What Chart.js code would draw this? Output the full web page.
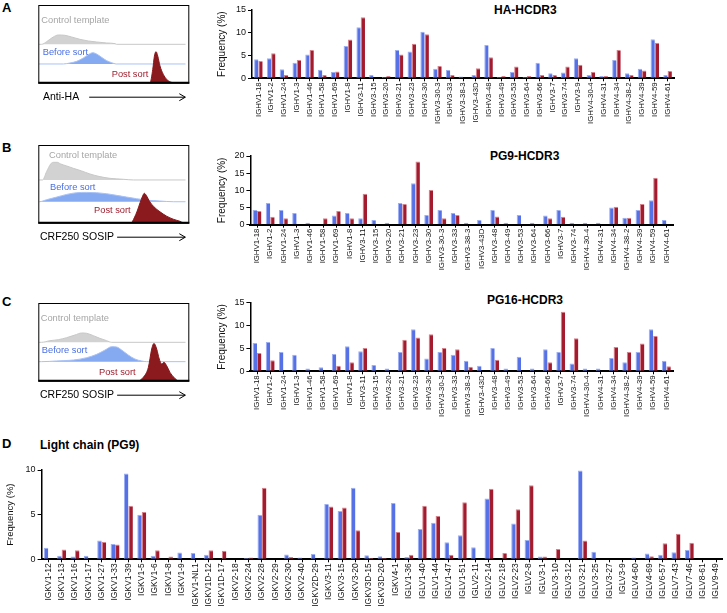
<!DOCTYPE html>
<html>
<head>
<meta charset="utf-8">
<script src="https://cdn.jsdelivr.net/npm/chart.js@4.4.0/dist/chart.umd.min.js"></script>
<style>
body { margin:0; background:#fff; width:727px; height:613px; position:relative; overflow:hidden; font-family:"Liberation Sans", Arial, sans-serif; }
canvas { position:absolute; }
.lbl { position:absolute; font-weight:bold; color:#000; white-space:nowrap; line-height:1; }
</style>
</head>
<body>
<div class="lbl" style="left:2px;top:0.6px;font-size:13px">A</div>
<div class="lbl" style="left:2px;top:140.6px;font-size:13px">B</div>
<div class="lbl" style="left:2px;top:294.6px;font-size:13px">C</div>
<div class="lbl" style="left:2px;top:436.6px;font-size:13px">D</div>
<div class="lbl" style="left:494px;top:4px;font-size:12px">HA-HCDR3</div>
<div class="lbl" style="left:490px;top:150px;font-size:12px">PG9-HCDR3</div>
<div class="lbl" style="left:487px;top:294px;font-size:12px">PG16-HCDR3</div>
<div class="lbl" style="left:40px;top:438.6px;font-size:12px">Light chain (PG9)</div>

<canvas id="histA" width="170" height="110" style="left:30px;top:0px"></canvas>
<canvas id="histB" width="170" height="110" style="left:30px;top:140px"></canvas>
<canvas id="histC" width="170" height="110" style="left:30px;top:298px"></canvas>
<canvas id="barA" width="517" height="135" style="left:210px;top:0px"></canvas>
<canvas id="barB" width="517" height="140" style="left:210px;top:140px"></canvas>
<canvas id="barC" width="517" height="145" style="left:210px;top:285px"></canvas>
<canvas id="barD" width="727" height="158" style="left:0px;top:455px"></canvas>

<script>
// heavy chain genes
var genesHA = ['IGHV1-18','IGHV1-2','IGHV1-24','IGHV1-3','IGHV1-46','IGHV1-58','IGHV1-69','IGHV1-8',
  'IGHV3-11','IGHV3-15','IGHV3-20','IGHV3-21','IGHV3-23','IGHV3-30','IGHV3-30-3','IGHV3-33','IGHV3-38-3',
  'IGHV3-43D','IGHV3-48','IGHV3-49','IGHV3-53','IGHV3-64','IGHV3-66','IGHV3-7','IGHV3-74','IGHV3-9',
  'IGHV4-30-4','IGHV4-31','IGHV4-34','IGHV4-38-2','IGHV4-39','IGHV4-59','IGHV4-61'];
var genesPG = ['IGHV1-18','IGHV1-2','IGHV1-24','IGHV1-3','IGHV1-46','IGHV1-58','IGHV1-69','IGHV1-8',
  'IGHV3-11','IGHV3-15','IGHV3-20','IGHV3-21','IGHV3-23','IGHV3-30','IGHV3-30-3','IGHV3-33','IGHV3-38-3',
  'IGHV3-43D','IGHV3-48','IGHV3-49','IGHV3-53','IGHV3-64','IGHV3-66','IGHV3-7','IGHV3-74',
  'IGHV4-30-4','IGHV4-31','IGHV4-34','IGHV4-38-2','IGHV4-39','IGHV4-59','IGHV4-61'];

var haBefore = [4.2,4.4,2.0,3.4,5.2,1.9,1.4,7.1,11.2,0.7,0.3,6.2,5.9,10.2,2.1,1.8,0.4,0.7,7.3,0.3,1.4,0.3,3.4,1.1,1.3,4.4,0.7,0.5,4.0,1.1,2.1,8.6,0.7];
var haPost = [3.8,5.5,0.7,4.0,6.2,0.7,1.5,8.5,13.4,0.2,0.5,5.2,7.6,9.7,2.7,0.7,null,2.2,4.6,0.5,2.6,0.5,0.7,0.7,2.6,3.0,1.4,0.5,6.2,0.7,1.7,7.8,1.6];

var pg9Before = [4.3,6.3,4.3,3.4,0.6,null,2.7,3.4,1.9,1.4,0.6,6.3,12.1,2.8,4.3,3.4,0.6,1.4,4.3,0.6,2.8,0.6,2.7,4.3,0.6,0.6,0.6,5.0,2.0,4.3,7.1,1.4];
var pg9Post = [4.0,2.3,1.9,null,null,1.9,4.0,1.9,9.0,null,null,6.0,18.4,10.1,1.9,2.8,null,null,2.4,null,null,null,1.9,2.3,null,null,null,5.2,2.0,6.0,13.7,null];

var pg16Before = [6.2,6.4,4.2,3.6,0.6,0.9,3.8,5.5,4.4,1.4,0.6,4.2,9.2,2.8,4.2,3.6,2.3,1.2,5.1,0.6,3.2,0.6,4.8,4.2,1.7,0.6,0.6,2.9,2.0,4.2,9.2,2.3];
var pg16Post = [4.0,2.4,null,null,null,null,1.2,2.0,5.1,null,null,6.9,7.4,8.1,5.1,4.8,1.0,null,2.5,null,null,null,2.0,13.0,7.2,null,null,5.3,4.2,6.1,7.7,1.1];

// light chain genes
var genesLight = ['IGKV1-12','IGKV1-13','IGKV1-16','IGKV1-17','IGKV1-27','IGKV1-33','IGKV1-39','IGKV1-5','IGKV1-6',
  'IGKV1-8','IGKV1-9','IGKV1-NL1','IGKV1D-12','IGKV1D-17','IGKV2-18','IGKV2-24','IGKV2-28','IGKV2-29','IGKV2-30',
  'IGKV2-40','IGKV2D-29','IGKV3-11','IGKV3-15','IGKV3-20','IGKV3D-15','IGKV3D-20','IGKV4-1','IGLV1-36','IGLV1-40',
  'IGLV1-44','IGLV1-47','IGLV1-51','IGLV2-11','IGLV2-14','IGLV2-18','IGLV2-23','IGLV2-8','IGLV3-1','IGLV3-10',
  'IGLV3-12','IGLV3-21','IGLV3-25','IGLV3-27','IGLV3-9','IGLV4-60','IGLV4-69','IGLV6-57','IGLV7-43','IGLV7-46',
  'IGLV8-61','IGLV9-49'];
var lightBefore = [1.3,0.4,0.3,0.4,2.1,1.7,9.6,5.0,0.4,null,0.75,0.7,0.5,null,null,0.15,5.0,null,0.55,0.2,0.6,6.2,5.4,8.0,0.45,0.35,6.3,0.25,3.4,4.1,1.9,2.7,1.35,6.8,null,4.0,2.15,0.3,null,null,9.95,0.85,null,null,0.2,0.65,0.5,0.8,1.05,null,null];
var lightPost = [null,1.1,1.0,null,1.95,1.65,6.0,5.3,1.0,0.3,null,null,1.0,0.95,null,0.2,8.0,null,0.25,null,null,5.9,5.8,3.25,0.15,0.15,3.05,0.5,6.0,4.85,0.5,6.4,null,7.9,0.7,5.6,8.3,0.3,1.15,null,2.1,null,null,null,null,0.35,1.8,2.85,1.85,null,null];

var maxHA = 15, maxPG9 = 20, maxPG16 = 15, maxLight = 10;

// sort histograms (x = fluorescence, y = count, box height = 100)
var histHaControlX = [2.2,5.5,9.9,13.2,17.6,22.1,27.6,33.1,38.6,45.3,50.8,51.9];
var histHaControlY = [0,3.4,9.4,12,11.6,9.4,6.4,4.3,3,1.7,0.9,0];
var histHaBeforeX = [16.6,21,25.4,29.8,33.1,36,38.6,41.9,45.3,48.6,51.5];
var histHaBeforeY = [0,1.3,3.4,7.7,12,14.6,12.9,8.6,4.3,1.7,0];
var histHaPostX = [74,75.8,76.9,78,79.1,80.6,82.8,85,87.6,89.4];
var histHaPostY = [0,17.2,34.3,39.9,34.3,21.5,10.7,4.3,0.9,0];

var histPg9ControlX = [2.8,5.5,8.2,9.9,12.6,14.8,18.8,23.2,28.7,34.2,40.8,47.5,56.3,62.9];
var histPg9ControlY = [0,10.7,20.6,22.7,22.7,20.6,18,15,11.6,7.7,4.3,2.1,0.9,0];
var histPg9BeforeX = [0.7,5.5,12.2,18.8,25.4,32,38.6,45.3,51.9,58.5,65.1,71.8,80.6,89.4];
var histPg9BeforeY = [0,2.6,6,9.4,11.6,12,11.6,10.3,8.2,6,3.9,2.1,0.9,0];
var histPg9PostX = [61.5,63.5,65.5,67.4,69.1,70.2,71.5,73.5,76.5,80.6,85,89.4,93.8,96];
var histPg9PostY = [0,6,15,25.7,34.3,37.8,35.2,27.9,20.6,14,8.4,4.5,1.8,0];

var histPg16ControlX = [2.2,7.7,13.2,18.8,24.3,28.7,32,36.4,40.8,45.3,48.6];
var histPg16ControlY = [0,2.1,3.4,6,9.4,12,11.6,8.6,5.1,2.1,0];
var histPg16BeforeX = [2.2,12.2,23.2,32,38.6,44.2,48.6,51.9,55.2,59.6,64,68.4,71.8];
var histPg16BeforeY = [0,0.9,2.1,5.1,9.4,15,19.3,18.9,15,8.6,3.4,0.9,0];
var histPg16PostX = [66.2,69.5,72.9,75.1,76.6,78.4,80.1,81.7,83.2,85,87.2,89.8,92.7];
var histPg16PostY = [0,4.3,17.2,40.8,48,40.8,27.9,21.5,23.6,19.3,10.7,4.3,0];

var FONT = '"Liberation Sans", Arial, sans-serif';
Chart.defaults.font.family = FONT;
Chart.defaults.color = '#111';
Chart.defaults.animation = false;

var BLUE = '#5571E5', BLUE_EDGE = '#9DB0F4';
var RED = '#A31B2E', RED_EDGE = '#D9828C';

function curve(xs, ys, base) {
    var pts = [{x: 0.5, y: base}];
    for (var i = 0; i < xs.length; i++) pts.push({x: xs[i], y: base + ys[i]});
    pts.push({x: 97.5, y: base});
    return pts;
}

function histFrame(labels, axisText, indent, gap) {
    return {
        id: 'histFrame',
        afterDraw: function(chart) {
            var a = chart.chartArea, ctx = chart.ctx;
            var xs = chart.scales.x, ys = chart.scales.y;
            ctx.save();
            ctx.strokeStyle = '#000';
            ctx.lineWidth = 1;
            ctx.strokeRect(a.left + 0.5, a.top + 0.5, a.right - a.left - 1, a.bottom - a.top);
            ctx.lineWidth = 2;
            ctx.beginPath(); ctx.moveTo(a.left, a.bottom); ctx.lineTo(a.right, a.bottom); ctx.stroke();

            ctx.font = '9.3px ' + FONT;
            ctx.textBaseline = 'middle';
            labels.forEach(function(l) {
                ctx.fillStyle = l.color;
                ctx.fillText(l.text, xs.getPixelForValue(l.x), ys.getPixelForValue(l.y));
            });

            ctx.fillStyle = '#000';
            ctx.font = '10.5px ' + FONT;
            var ty = a.bottom + 14.5;
            ctx.fillText(axisText, a.left + indent, ty);
            var x0 = a.left + indent + ctx.measureText(axisText).width + gap;
            var x1 = a.right - 4;
            ctx.lineWidth = 1;
            ctx.beginPath();
            ctx.moveTo(x0, ty); ctx.lineTo(x1, ty);
            ctx.moveTo(x1 - 6, ty - 3.5); ctx.lineTo(x1, ty); ctx.lineTo(x1 - 6, ty + 3.5);
            ctx.stroke();
            ctx.restore();
        }
    };
}

function renderHistogram(id, ctrl, before, post, bases, labels, axisText, indent, gap) {
    var ctx = document.getElementById(id).getContext('2d');
    new Chart(ctx, {
        type: 'line',
        data: { datasets: [
            { data: curve(post[0], post[1], 0), borderColor: '#8A1A1E', backgroundColor: '#8A1A1E', fill: {value: 0} },
            { data: curve(before[0], before[1], bases[1]), borderColor: '#A9C3F6', backgroundColor: '#86AAF2', fill: {value: bases[1]} },
            { data: curve(ctrl[0], ctrl[1], bases[0]), borderColor: '#C8C8C8', backgroundColor: '#D2D2D2', fill: {value: bases[0]} }
        ] },
        options: {
            responsive: false,
            devicePixelRatio: 1,
            layout: { padding: { left: 8.3, top: 5, right: 10.7, bottom: 27.3 } },
            elements: { point: { radius: 0 }, line: { borderWidth: 1, cubicInterpolationMode: 'monotone' } },
            scales: {
                x: { type: 'linear', min: 0, max: 100, display: false },
                y: { min: 0, max: 100, display: false }
            },
            plugins: { legend: { display: false }, tooltip: { enabled: false } }
        },
        plugins: [histFrame(labels, axisText, indent, gap)]
    });
}

function renderBarChart(id, labels, before, post, maxY, lay) {
    var ctx = document.getElementById(id).getContext('2d');
    new Chart(ctx, {
        type: 'bar',
        data: { labels: labels, datasets: [
            { data: before, backgroundColor: BLUE, borderColor: BLUE_EDGE, borderWidth: {left: 1, top: 1, right: 0, bottom: 0} },
            { data: post, backgroundColor: RED, borderColor: RED_EDGE, borderWidth: {left: 1, top: 1, right: 0, bottom: 0} }
        ] },
        options: {
            responsive: false,
            devicePixelRatio: 1,
            layout: { padding: { top: lay.top, right: lay.right, left: 0, bottom: 0 } },
            datasets: { bar: { categoryPercentage: 0.67, barPercentage: 1.0 } },
            scales: {
                x: {
                    offset: true,
                    grid: { display: true, drawOnChartArea: false, drawTicks: true, tickLength: 3, color: '#000', lineWidth: 1, offset: false },
                    border: { display: true, color: '#000', width: 2 },
                    ticks: { autoSkip: false, minRotation: 90, maxRotation: 90, padding: 1, color: '#111', font: { size: lay.xFont } },
                    afterFit: function(s) { s.height = lay.xh; s.paddingLeft = 0; s.paddingRight = 0; }
                },
                y: {
                    min: 0, max: maxY,
                    grid: { drawOnChartArea: false, drawTicks: true, tickLength: 4, color: '#000', lineWidth: 1 },
                    border: { display: true, color: '#000', width: 1.5 },
                    ticks: { stepSize: 5, padding: 2, color: '#111', font: { size: 9 } },
                    title: { display: true, text: 'Frequency (%)', color: '#111', font: { size: lay.tFont }, padding: { top: lay.tPad, bottom: 0 } },
                    afterFit: function(s) { s.width = lay.yw; }
                }
            },
            plugins: { legend: { display: false }, tooltip: { enabled: false } }
        }
    });
}

var CTRL = '#A6A6A6', BEF = '#4A6FE3', POST = '#9E1E2E';

renderHistogram('histA', [histHaControlX, histHaControlY], [histHaBeforeX, histHaBeforeY], [histHaPostX, histHaPostY], [49.4, 24.1],
    [{text: 'Control template', color: CTRL, x: 2.0, y: 79.8},
     {text: 'Before sort', color: BEF, x: 2.9, y: 38.6},
     {text: 'Post sort', color: POST, x: 48.6, y: 11.2}], 'Anti-HA', 4.7, 10);
renderHistogram('histB', [histPg9ControlX, histPg9ControlY], [histPg9BeforeX, histPg9BeforeY], [histPg9PostX, histPg9PostY], [55, 27],
    [{text: 'Control template', color: CTRL, x: 7.1, y: 87.1},
     {text: 'Before sort', color: BEF, x: 7.7, y: 45.9},
     {text: 'Post sort', color: POST, x: 36.9, y: 15.4}], 'CRF250 SOSIP', 1.7, 3);
renderHistogram('histC', [histPg16ControlX, histPg16ControlY], [histPg16BeforeX, histPg16BeforeY], [histPg16PostX, histPg16PostY], [49.4, 24.5],
    [{text: 'Control template', color: CTRL, x: 1.6, y: 80.3},
     {text: 'Before sort', color: BEF, x: 2.3, y: 39.5},
     {text: 'Post sort', color: POST, x: 40.2, y: 11.2}], 'CRF250 SOSIP', 1.7, 3);

renderBarChart('barA', genesHA, haBefore, haPost, maxHA, {top: 10, right: 53, yw: 42, xh: 56.7, xFont: 7.8, tFont: 10, tPad: 6});
renderBarChart('barB', genesPG, pg9Before, pg9Post, maxPG9, {top: 16, right: 54, yw: 40.4, xh: 55.3, xFont: 7.8, tFont: 10, tPad: 6});
renderBarChart('barC', genesPG, pg16Before, pg16Post, maxPG16, {top: 17.7, right: 54, yw: 40.4, xh: 58.7, xFont: 7.8, tFont: 10, tPad: 6});
renderBarChart('barD', genesLight, lightBefore, lightPost, maxLight, {top: 15, right: 4.3, yw: 41.6, xh: 53.7, xFont: 8.5, tFont: 9.5, tPad: 4.3});
</script>
</body>
</html>
